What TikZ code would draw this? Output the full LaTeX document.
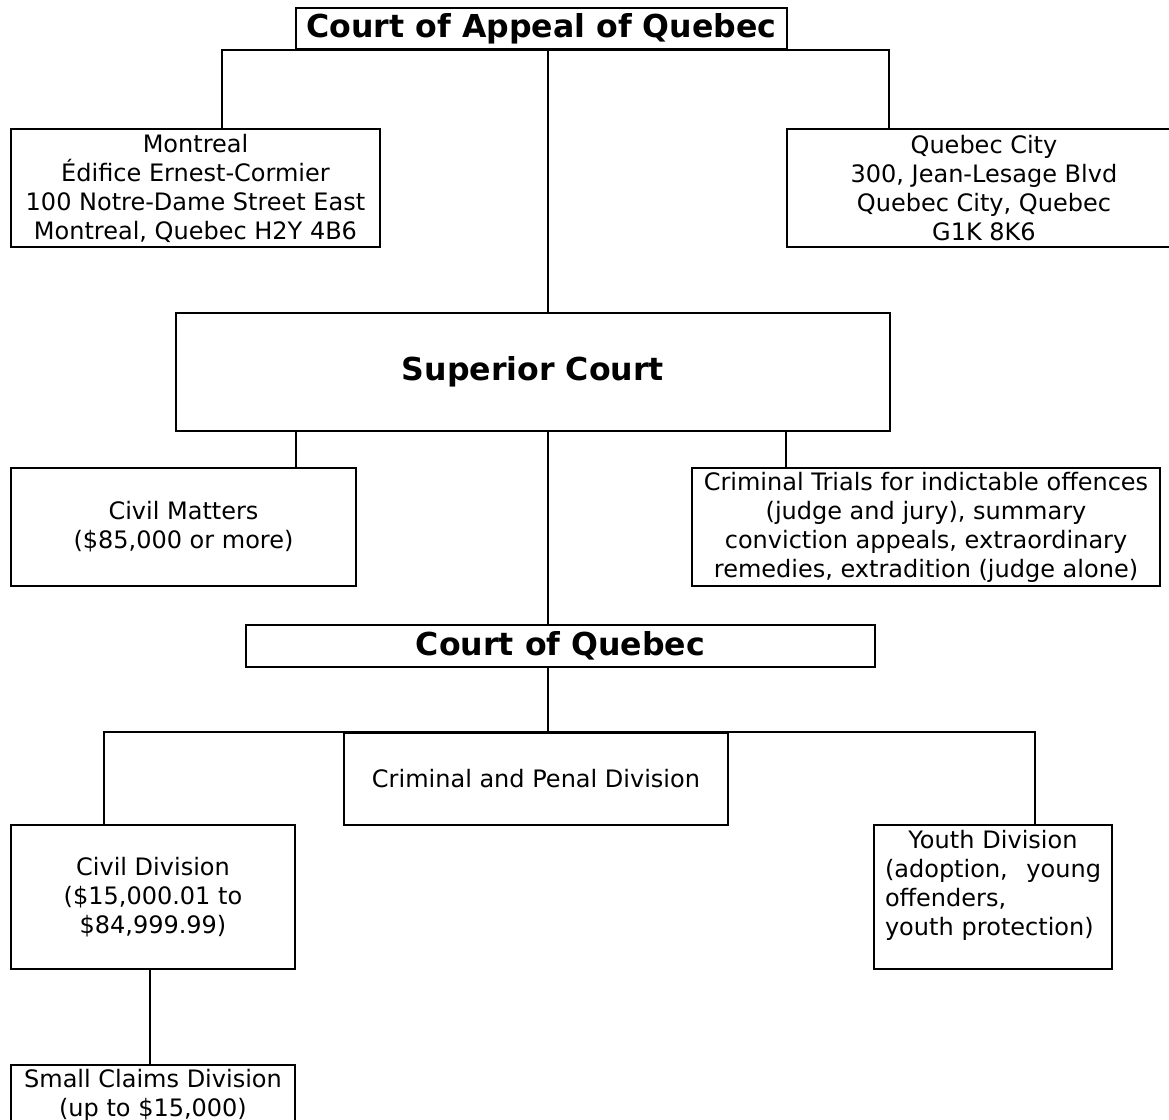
\documentclass[tikz,border=0pt]{standalone}
\usepackage{fontspec}
\setmainfont{DejaVu Sans}
\begin{document}
\begin{tikzpicture}[x=0.5pt,y=-0.5pt,
  box/.style={draw,line width=1pt,inner sep=0pt,align=center,anchor=north west,font=\fontsize{12}{14.5}\selectfont},
  head/.style={box,font=\fontsize{15.8}{18}\selectfont\bfseries},
  wh/.style 2 args={minimum width=#1*0.5pt,minimum height=#2*0.5pt},
  link/.style={line width=1pt}]
\useasboundingbox (0,0) rectangle (1169,1120);
\node[head,wh={491}{41}] (appeal) at (295,7) {Court of Appeal of Quebec};
\node[box,wh={369}{118}] (montreal) at (10,128) {Montreal\\Édifice Ernest-Cormier\\100 Notre-Dame Street East\\Montreal, Quebec H2Y 4B6};
\node[box,wh={394}{118}] (quebec) at (786,128) {Quebec City\\300, Jean-Lesage Blvd\\Quebec City, Quebec\\G1K 8K6};
\node[head,wh={714}{118}] (superior) at (175,312) {Superior Court};
\node[box,wh={345}{118}] (civilm) at (10,467) {Civil Matters\\(\$85,000 or more)};
\node[box,wh={468}{118}] (crimtr) at (691,467) {Criminal Trials for indictable offences\\(judge and jury), summary\\conviction appeals, extraordinary\\remedies, extradition (judge alone)};
\node[head,wh={629}{42}] (coq) at (245,624) {Court of Quebec};
\node[box,wh={384}{92}] (crimpen) at (343,732) {Criminal and Penal Division};
\node[box,wh={284}{144}] (civild) at (10,824) {Civil Division\\(\$15,000.01 to\\\$84,999.99)};
\node[box,wh={238}{144},align=left,text width=108pt,inner xsep=5pt] (youth) at (873,824) {\makebox[108pt]{Youth Division}\\\makebox[108pt][s]{(adoption,\hfill young}\\offenders,\\youth protection)\\\mbox{}};
\node[box,wh={284}{60}] (small) at (10,1064) {Small Claims Division\\(up to \$15,000)};
\coordinate (trunk) at (548,0);
\coordinate (mtl) at (222,0); \coordinate (qc) at (889,0);
\coordinate (cm) at (296,0); \coordinate (ct) at (786,0);
\coordinate (cd) at (104,0); \coordinate (yd) at (1035,0);
\coordinate (sc) at (150,0);
\draw[link] (mtl |- montreal.north) -- (mtl |- appeal.south) -- (qc |- appeal.south) -- (qc |- quebec.north);
\draw[link] (trunk |- appeal.south) -- (trunk |- superior.north);
\draw[link] (cm |- superior.south) -- (cm |- civilm.north);
\draw[link] (ct |- superior.south) -- (ct |- crimtr.north);
\draw[link] (trunk |- superior.south) -- (trunk |- coq.north);
\draw[link] (trunk |- coq.south) -- (trunk |- crimpen.north);
\draw[link] (cd |- civild.north) -- (cd |- crimpen.north) -- (yd |- crimpen.north) -- (yd |- youth.north);
\draw[link] (sc |- civild.south) -- (sc |- small.north);
\end{tikzpicture}
\end{document}
